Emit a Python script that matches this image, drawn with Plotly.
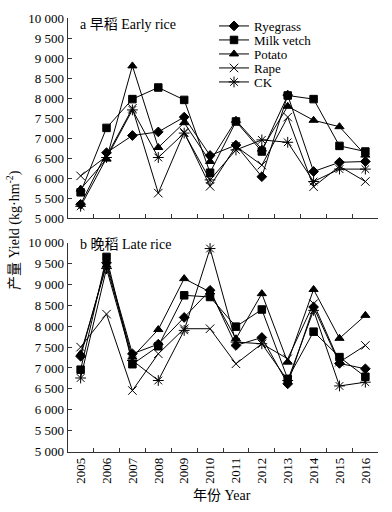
import plotly.graph_objects as go

years = ["2005", "2006", "2007", "2008", "2009", "2010", "2011", "2012", "2013", "2014", "2015", "2016"]
series_names = ["Ryegrass", "Milk vetch", "Potato", "Rape", "CK"]

# Early rice yields (kg/hm2)
early_ryegrass = [5350, 6640, 7070, 7160, 7530, 6570, 6830, 6040, 8080, 6170, 6400, 6420]
early_milkvetch = [5650, 7260, 7980, 8270, 7960, 6140, 7420, 6670, 8070, 7980, 6810, 6670]
early_potato = [5730, 6480, 8810, 6770, 7390, 6420, 7450, 6730, 7800, 7450, 7290, 6580]
early_rape = [6060, 6550, 7750, 5630, 7150, 5800, 6800, 6330, 7530, 5790, 6300, 5920]
early_ck = [5300, 6520, 7710, 6520, 7130, 5960, 6710, 6960, 6900, 5920, 6230, 6230]

# Late rice yields (kg/hm2)
late_ryegrass = [7280, 9520, 7340, 7570, 8210, 8860, 7540, 7730, 6620, 8460, 7110, 6980]
late_milkvetch = [6960, 9660, 7090, 7520, 8740, 8700, 7990, 8400, 6740, 7870, 7260, 6790]
late_potato = [7340, 9460, 7260, 7920, 9140, 8820, 7700, 8780, 7140, 8880, 7710, 8260]
late_rape = [7500, 8290, 6460, 7340, 7940, 7940, 7100, 7580, 7220, 8540, 7140, 7540]
late_ck = [6760, 9380, 7180, 6700, 7900, 9860, 7620, 7580, 6700, 8380, 6570, 6660]

y_tickvals = [5000, 5500, 6000, 6500, 7000, 7500, 8000, 8500, 9000, 9500, 10000]
y_ticktext = ["5 000", "5 500", "6 000", "6 500", "7 000", "7 500", "8 000", "8 500", "9 000", "9 500", "10 000"]

early = [early_ryegrass, early_milkvetch, early_potato, early_rape, early_ck]
late = [late_ryegrass, late_milkvetch, late_potato, late_rape, late_ck]

symbols = ["diamond", "square", "triangle-up", "x-thin-open", "asterisk-open"]
sizes = [7.5, 7.5, 8, 8.5, 9]

FONT = "Liberation Serif, Noto Sans CJK SC"
W, H = 392, 512

fig = go.Figure()

legend_rows = [26, 40, 54, 68, 82]

for i, name in enumerate(series_names):
    mk = dict(symbol=symbols[i], size=sizes[i], color="black",
              line=dict(color="black", width=1))
    fig.add_trace(go.Scatter(x=years, y=early[i], name=name, mode="lines+markers",
                             line=dict(color="black", width=1), marker=mk,
                             xaxis="x", yaxis="y",
                             legend="legend" if i == 0 else f"legend{i+1}",
                             showlegend=True))
    fig.add_trace(go.Scatter(x=years, y=late[i], name=name, mode="lines+markers",
                             line=dict(color="black", width=1), marker=mk,
                             xaxis="x2", yaxis="y2", showlegend=False))

xdom = [67.7 / W, 378.3 / W]
axis_common = dict(showline=True, linecolor="#333", linewidth=1, showgrid=False,
                   zeroline=False, ticks="inside", ticklen=4, tickcolor="#333",
                   automargin=False,
                   tickfont=dict(family=FONT, size=13, color="black"))

layout = dict(
    width=W, height=H, autosize=False,
    margin=dict(l=0, r=0, t=0, b=0, autoexpand=False),
    paper_bgcolor="white", plot_bgcolor="white",
    font=dict(family=FONT, size=13, color="black"),
    xaxis=dict(domain=xdom, anchor="y", type="category", range=[-0.5, 11.5],
               tickson="boundaries", showticklabels=False, **axis_common),
    yaxis=dict(domain=[1 - 218.3 / H, 1 - 18.3 / H], anchor="x", range=[5000, 10000],
               tickvals=y_tickvals, ticktext=y_ticktext, **axis_common),
    xaxis2=dict(domain=xdom, anchor="y2", type="category", range=[-0.5, 11.5],
                tickson="boundaries", tickangle=-90, **axis_common),
    yaxis2=dict(domain=[1 - 451.5 / H, 1 - 242.7 / H], anchor="x2", range=[5000, 10000],
                tickvals=y_tickvals, ticktext=y_ticktext, **axis_common),
)

for i in range(5):
    key = "legend" if i == 0 else f"legend{i+1}"
    layout[key] = dict(x=214 / W, xanchor="left", y=1 - legend_rows[i] / H, yanchor="middle",
                       bgcolor="rgba(0,0,0,0)", borderwidth=0,
                       font=dict(family=FONT, size=13, color="black"),
                       itemwidth=30, tracegroupgap=0)

fig.update_layout(**layout)

fig.add_annotation(text="a 早稻 Early rice", xref="paper", yref="paper",
                   x=78 / W, y=1 - 24 / H, xanchor="left", yanchor="middle",
                   showarrow=False, font=dict(family=FONT, size=14, color="black"))
fig.add_annotation(text="b 晚稻 Late rice", xref="paper", yref="paper",
                   x=78 / W, y=1 - 244 / H, xanchor="left", yanchor="middle",
                   showarrow=False, font=dict(family=FONT, size=14, color="black"))
fig.add_annotation(text="年份 Year", xref="paper", yref="paper",
                   x=222 / W, y=1 - 495 / H, xanchor="center", yanchor="middle",
                   showarrow=False, font=dict(family=FONT, size=14, color="black"))
fig.add_annotation(text="产量 Yield (kg·hm<sup>-2</sup>)", xref="paper", yref="paper",
                   x=13 / W, y=1 - 230 / H, xanchor="center", yanchor="middle",
                   textangle=-90, showarrow=False,
                   font=dict(family=FONT, size=14, color="black"))

fig.write_html("out.html",
               config={"displayModeBar": False},
               post_script="document.body.style.margin='0';document.body.style.overflow='hidden';")
